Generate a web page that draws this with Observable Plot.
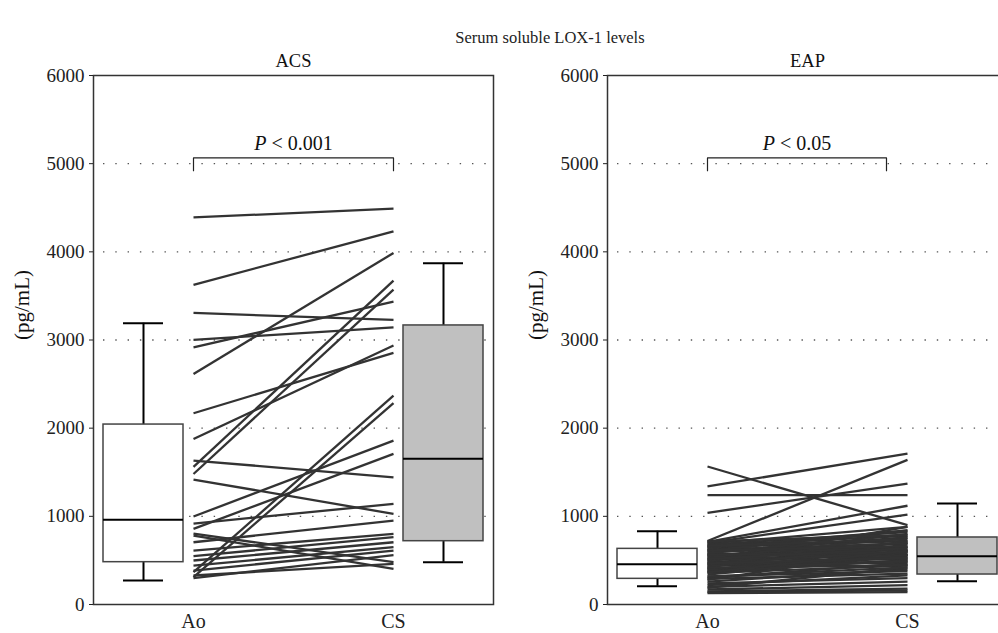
<!DOCTYPE html>
<html>
<head>
<meta charset="utf-8">
<script src="https://cdn.jsdelivr.net/npm/d3@7"></script>
<script src="https://cdn.jsdelivr.net/npm/@observablehq/plot@0.6"></script>
<style>
  body { margin: 0; background: #fff; }
  #chart { position: relative; width: 998px; height: 633px; overflow: hidden; background: #fff; font-family: "Liberation Serif", "DejaVu Serif", serif; }
  #title { position: absolute; left: 0; width: 1100px; top: 28px; text-align: center; font-size: 16.5px; color: #222; }
  .panel { position: absolute; top: 0; }
</style>
</head>
<body>
<div id="chart">
  <div id="title">Serum soluble LOX-1 levels</div>
</div>
<script>
// ---------- data ----------
const categories = ["Ao", "CS"];
const panelTitles = ["ACS", "EAP"];
const pLabels = ["P < 0.001", "P < 0.05"];
const yTicks = [0, 1000, 2000, 3000, 4000, 5000, 6000];
const gridValues = [1000, 2000, 3000, 4000, 5000];

// paired patient values (pg/mL)
const acsAo = [4390, 3625, 3307, 3001, 2917, 2615, 2169, 1878, 1560, 1480, 1633, 1417, 998, 858, 366, 310, 918, 805, 782, 706, 612, 548, 499, 442, 385, 329, 300];
const acsCS = [4490, 4233, 3228, 3144, 3435, 3987, 2854, 2937, 3673, 3571, 1443, 1028, 1859, 1708, 2370, 2283, 1141, 480, 405, 952, 801, 763, 706, 650, 612, 461, 560];

const eapAo = [1565, 1340, 1240, 1040, 720, 710, 700, 690, 680, 670, 660, 650, 640, 620, 600, 580, 560, 540, 520, 500, 480, 460, 440, 420, 400, 380, 360, 340, 320, 300, 290, 280, 260, 240, 220, 200, 190, 170, 150, 140, 130,
               630, 610, 590, 570, 550, 530, 510, 490, 470, 450, 430, 410, 390, 370, 715, 665, 615, 565, 515, 465, 415, 365, 315];
const eapCS = [900, 1710, 1240, 1370, 1640, 1120, 1020, 880, 820, 780, 560, 720, 840, 690, 760, 520, 650, 800, 700, 600, 580, 540, 480, 720, 500, 650, 440, 560, 380, 470, 350, 620, 400, 300, 330, 260, 420, 220, 180, 160, 140,
               610, 840, 700, 450, 620, 760, 560, 880, 600, 520, 680, 450, 560, 500, 790, 740, 660, 590, 640, 530, 490, 610, 420];

// box stats: [min, q1, median, q3, max]
const acsAoBox = [272, 480, 960, 2041, 3190];
const acsCsBox = [480, 718, 1652, 3165, 3870];
const eapAoBox = [207, 291, 457, 631, 831];
const eapCsBox = [264, 340, 548, 760, 1145];

// ---------- drawing ----------
function panel({ao, cs, boxA, boxC, title, pText, bx2, width, marginLeft, marginRight}) {
  const pairs = ao.map((v, i) => ({a: v, c: cs[i]}));
  const boxes = [
    {x: 0.5, s: boxA, fill: "#ffffff"},
    {x: 3.5, s: boxC, fill: "#c0c0c0"}
  ];
  const caps = boxes.flatMap(d => [{x: d.x, y: d.s[0]}, {x: d.x, y: d.s[4]}]);
  const bracket = [[1, 4920], [1, 5065], [bx2, 5065], [bx2, 4920]];
  const svg = Plot.plot({
    width, height: 633,
    marginTop: 75, marginBottom: 29, marginLeft, marginRight,
    style: {fontFamily: "Liberation Serif, DejaVu Serif, serif", fontSize: "16px", color: "#222", background: "transparent"},
    x: {domain: [0, 4], axis: null},
    y: {domain: [0, 6000], axis: null},
    marks: [
      Plot.ruleY(gridValues, {stroke: "#555", strokeWidth: 1.3, strokeDasharray: "1.4,10.9", insetLeft: 10}),
      Plot.link(pairs, {x1: () => 1, x2: () => 3, y1: "a", y2: "c", stroke: "#333", strokeWidth: 2.3}),
      Plot.ruleX(boxes, {x: "x", y1: d => d.s[0], y2: d => d.s[4], stroke: "#000", strokeWidth: 2}),
      Plot.rect(boxes, {x1: d => d.x - 0.4, x2: d => d.x + 0.4, y1: d => d.s[1], y2: d => d.s[3], fill: d => d.fill, stroke: "#444", strokeWidth: 1.5}),
      Plot.ruleY(boxes, {y: d => d.s[2], x1: d => d.x - 0.4, x2: d => d.x + 0.4, stroke: "#000", strokeWidth: 2}),
      Plot.ruleY(caps, {y: "y", x1: d => d.x - 0.2, x2: d => d.x + 0.2, stroke: "#000", strokeWidth: 2}),
      Plot.line(bracket, {stroke: "#222", strokeWidth: 1.2}),
      Plot.text([pText], {x: (1 + bx2) / 2, y: 5230, fontSize: 20, fill: "#111"}),
      Plot.frame({stroke: "#333", strokeWidth: 1.5}),
      Plot.axisY({ticks: yTicks, tickFormat: "d", tickSize: 4, tickPadding: 5, fontSize: 19, label: null}),
      Plot.axisX({ticks: [1, 3], tickFormat: d => categories[(d - 1) / 2], tickSize: 0, tickPadding: 9, fontSize: 20, label: null}),
      Plot.text(["(pg/mL)"], {frameAnchor: "left", rotate: -90, dx: -71, fontSize: 21, fill: "#111"}),
      Plot.text([title], {frameAnchor: "top", dy: -22, fontSize: 18.5, fill: "#111"})
    ]
  });
  d3.select(svg).selectAll("text").each(function() {
    const t = this.textContent;
    if (t.startsWith("P <")) {
      const rest = t.slice(1);
      const sel = d3.select(this);
      sel.text(null);
      sel.append("tspan").attr("font-style", "italic").text("P");
      sel.append("tspan").text(rest);
    }
  });
  return svg;
}

const chart = document.getElementById("chart");
const left = panel({ao: acsAo, cs: acsCS, boxA: acsAoBox, boxC: acsCsBox, title: panelTitles[0], pText: pLabels[0], bx2: 3,
  width: 500, marginLeft: 93, marginRight: 7});
left.classList.add("panel");
left.style.left = "0px";
chart.appendChild(left);

const right = panel({ao: eapAo, cs: eapCS, boxA: eapAoBox, boxC: eapCsBox, title: panelTitles[1], pText: pLabels[1], bx2: 2.79,
  width: 510, marginLeft: 107, marginRight: 3});
right.classList.add("panel");
right.style.left = "500px";
chart.appendChild(right);
</script>
</body>
</html>
